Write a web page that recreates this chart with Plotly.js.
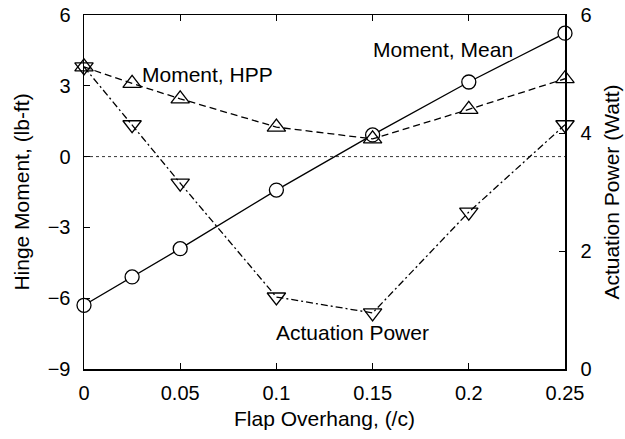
<!DOCTYPE html>
<html>
<head>
<meta charset="utf-8">
<script src="https://cdn.plot.ly/plotly-3.0.1.min.js"></script>
<style>html,body{margin:0;padding:0;background:#fff;}#chart{width:625px;height:439px;}</style>
</head>
<body>
<div id="chart"></div>
<script>
// Data
const overhang = [0, 0.025, 0.05, 0.1, 0.15, 0.2, 0.25];
const momentMean = [-6.3, -5.1, -3.9, -1.42, 0.92, 3.16, 5.23];
const momentHPP = [3.8, 3.1, 2.45, 1.25, 0.75, 2.0, 3.3];
const actuationPower = [5.12, 4.14, 3.15, 1.22, 0.95, 2.66, 4.14];
const xTicks = [0, 0.05, 0.1, 0.15, 0.2, 0.25];
const xTickText = ['0', '0.05', '0.1', '0.15', '0.2', '0.25'];
const yTicks = [-9, -6, -3, 0, 3, 6];
const y2Ticks = [0, 2, 4, 6];
const labels = [
  {text: 'Moment, HPP', x: 0.064, y: 3.5},
  {text: 'Moment, Mean', x: 0.1866, y: 4.52},
  {text: 'Actuation Power', x: 0.1393, y: -7.47}
];

const FONT = 'Liberation Sans, Arial, sans-serif';
const lineW = 1.3;

const traces = [
  {x: overhang, y: momentMean, mode: 'lines+markers', yaxis: 'y', cliponaxis: false,
   line: {color: '#000', width: lineW},
   marker: {symbol: 'circle', size: 14, color: '#fff', line: {color: '#000', width: 1.3}}},
  {x: overhang, y: momentHPP, mode: 'lines+markers', yaxis: 'y', cliponaxis: false,
   line: {color: '#000', width: lineW, dash: '7px,4px'},
   marker: {symbol: 'triangle-up-open', size: 16, color: '#000', line: {color: '#000', width: 1.3}}},
  {x: overhang, y: actuationPower, mode: 'lines+markers', yaxis: 'y2', cliponaxis: false,
   line: {color: '#000', width: lineW, dash: '7px,3px,2px,3px'},
   marker: {symbol: 'triangle-down-open', size: 16, color: '#000', line: {color: '#000', width: 1.3}}}
];

const layout = {
  width: 625, height: 439,
  margin: {l: 84, r: 60, t: 15, b: 70},
  paper_bgcolor: '#fff', plot_bgcolor: '#fff',
  showlegend: false,
  font: {family: FONT, size: 20, color: '#000'},
  xaxis: {
    range: [0, 0.25], tickvals: xTicks, ticktext: xTickText,
    ticks: 'inside', ticklen: 6, tickwidth: 1, tickcolor: '#000',
    showline: true, linecolor: '#000', linewidth: 1.5, mirror: 'ticks',
    showgrid: false, zeroline: false,
    tickfont: {family: FONT, size: 20},
    ticklabelstandoff: 5,
    title: {text: 'Flap Overhang, (/c)', font: {family: FONT, size: 21}, standoff: 9}
  },
  yaxis: {
    range: [-9, 6], tickvals: yTicks,
    ticks: 'inside', ticklen: 6, tickwidth: 1, tickcolor: '#000',
    showline: true, linecolor: '#000', linewidth: 1.5, mirror: false,
    showgrid: false, zeroline: false,
    tickfont: {family: FONT, size: 20},
    ticklabelstandoff: 8,
    title: {text: 'Hinge Moment, (lb-ft)', font: {family: FONT, size: 21}, standoff: 12}
  },
  yaxis2: {
    range: [0, 6], tickvals: y2Ticks, overlaying: 'y', side: 'right',
    ticks: 'inside', ticklen: 6, tickwidth: 1, tickcolor: '#000',
    showline: true, linecolor: '#000', linewidth: 1.5,
    showgrid: false, zeroline: false,
    tickfont: {family: FONT, size: 20},
    ticklabelstandoff: 10,
    title: {text: 'Actuation Power (Watt)', font: {family: FONT, size: 21}, standoff: 13}
  },
  shapes: [
    {type: 'line', xref: 'paper', x0: 0, x1: 1, yref: 'y', y0: 0, y1: 0,
     line: {color: '#000', width: 0.8, dash: 'dot'}, layer: 'below'}
  ],
  annotations: labels.map(l => ({
    text: l.text, x: l.x, y: l.y, xref: 'x', yref: 'y',
    showarrow: false, font: {family: FONT, size: 21, color: '#000'},
    bgcolor: 'rgba(255,255,255,0)'
  }))
};

Plotly.newPlot('chart', traces, layout, {displayModeBar: false, staticPlot: true});
</script>
</body>
</html>
